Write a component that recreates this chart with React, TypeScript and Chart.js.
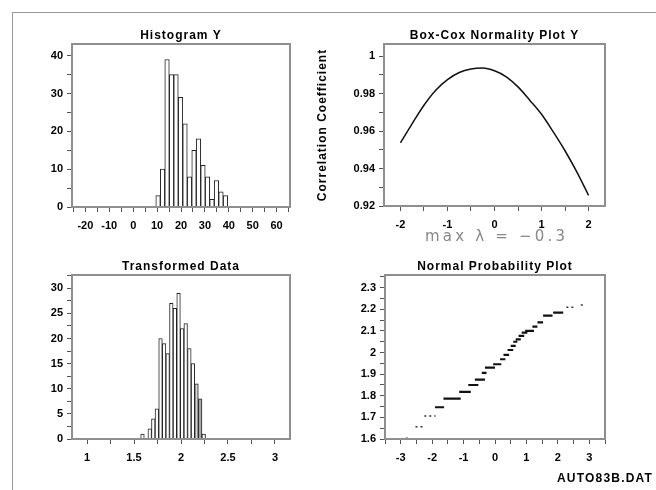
import React, { useEffect, useRef } from "react";
import { Chart, registerables } from "chart.js";

Chart.register(...registerables);

// ---------- Histogram Y ----------
const histYBins = [10.4, 12.28, 14.16, 16.04, 17.92, 19.8, 21.68, 23.56, 25.44, 27.32, 29.2, 31.08, 32.96, 34.84, 36.72, 38.6];
const histYCounts = [3, 10, 39, 35, 35, 29, 22, 8, 15, 18, 11, 8, 2, 7, 4, 3];

// ---------- Box-Cox normality plot ----------
const boxCoxLambda = [-2, -1.75, -1.5, -1.25, -1, -0.75, -0.5, -0.25, 0, 0.25, 0.5, 0.75, 1, 1.25, 1.5, 1.75, 2];
const boxCoxCorr = [0.9537, 0.964, 0.9738, 0.9818, 0.9875, 0.9913, 0.9932, 0.9937, 0.9922, 0.989, 0.9836, 0.9765, 0.969, 0.9596, 0.9495, 0.9382, 0.9257];
const maxLambdaText = "max λ = −0.3";

// ---------- Transformed data histogram ----------
const transBins = [1.59, 1.667, 1.705, 1.743, 1.782, 1.82, 1.858, 1.897, 1.935, 1.974, 2.012, 2.05, 2.089, 2.127, 2.165, 2.204, 2.242];
const transCounts = [1, 2, 4, 6, 20, 19, 17, 27, 26, 29, 22, 23, 18, 15, 11, 8, 1];

// ---------- Normal probability plot (runs of tied values) ----------
const nppDenseStart = [-1.91, -1.64, -1.14, -0.85, -0.64, -0.42, -0.32, -0.06, 0.16, 0.27, 0.4, 0.5, 0.58, 0.66, 0.75, 0.85, 0.96, 1.19, 1.35, 1.53, 1.85];
const nppDenseEnd = [-1.62, -1.09, -0.77, -0.53, -0.32, -0.27, 0.0, 0.2, 0.33, 0.45, 0.58, 0.66, 0.71, 0.82, 0.93, 1.03, 1.24, 1.35, 1.53, 1.83, 2.17];
const nppDenseLevel = [1.747, 1.787, 1.818, 1.85, 1.875, 1.906, 1.93, 1.946, 1.969, 1.989, 2.012, 2.031, 2.05, 2.061, 2.077, 2.092, 2.1, 2.12, 2.14, 2.171, 2.185];
const nppSparseStart = [-2.84, -2.53, -2.25, 2.27, 2.73];
const nppSparseEnd = [-2.76, -2.26, -1.89, 2.55, 2.81];
const nppSparseLevel = [1.603, 1.657, 1.706, 2.21, 2.22];

const footerText = "AUTO83B.DAT";

const FONT = '"Liberation Sans", Arial, Helvetica, sans-serif';

type Rect = { x: number; y: number; w: number; h: number };
type Area = { left: number; top: number; right: number; bottom: number };

function isMult(v: number, m: number) {
  const r = v / m;
  return Math.abs(r - Math.round(r)) < 1e-6;
}

function linAxis(min: number, max: number, step: number, major: number, size: number, horizontal: boolean, decimals: number) {
  return {
    type: "linear",
    min,
    max,
    bounds: "ticks",
    offset: false,
    grid: { display: true, offset: false, drawOnChartArea: false, drawTicks: true, tickLength: 5, color: "#555", lineWidth: 1 },
    border: { display: false },
    ticks: {
      stepSize: step,
      includeBounds: false,
      autoSkip: false,
      maxRotation: 0,
      minRotation: 0,
      padding: horizontal ? 7 : 4,
      color: "#000",
      font: { family: FONT, size: 11, weight: "bold" },
      callback: (v: number) => (isMult(v, major) ? String(Number(v.toFixed(decimals))) : ""),
    },
    afterFit: (s: any) => {
      if (horizontal) s.height = size;
      else s.width = size;
    },
  };
}

function decoPlugin(title: string, yTitle?: string) {
  return {
    id: "panelDeco",
    afterDraw(chart: any) {
      const { ctx, chartArea: a } = chart;
      ctx.save();
      ctx.strokeStyle = "#8f8f8f";
      ctx.lineWidth = 2;
      ctx.strokeRect(a.left, a.top, a.right - a.left, a.bottom - a.top);
      ctx.fillStyle = "#000";
      ctx.font = `bold 12px ${FONT}`;
      (ctx as any).letterSpacing = "1px";
      ctx.textAlign = "center";
      ctx.textBaseline = "middle";
      ctx.fillText(title, (a.left + a.right) / 2, a.top - 8);
      if (yTitle) {
        ctx.translate(a.left - 61, (a.top + a.bottom) / 2);
        ctx.rotate(-Math.PI / 2);
        ctx.fillText(yTitle, 0, 0);
      }
      ctx.restore();
    },
  };
}

function baseOptions(rect: Rect, area: Area) {
  return {
    responsive: false,
    maintainAspectRatio: false,
    animation: false,
    devicePixelRatio: 1,
    events: [],
    layout: { padding: { top: area.top - rect.y, right: rect.x + rect.w - area.right, left: 0, bottom: 0 } },
    plugins: { legend: { display: false }, tooltip: { enabled: false }, title: { display: false } },
  };
}

function segData(starts: number[], ends: number[], levels: number[]) {
  const out: any[] = [];
  for (let i = 0; i < starts.length; i++) {
    out.push({ x: starts[i], y: levels[i] });
    out.push({ x: ends[i], y: levels[i] });
    out.push({ x: (starts[i] + ends[i]) / 2, y: null });
  }
  return out;
}

// panel geometry
const R1: Rect = { x: 14, y: 20, w: 300, h: 225 };
const A1: Area = { left: 72, top: 44, right: 290, bottom: 207 };
const R2: Rect = { x: 314, y: 20, w: 310, h: 225 };
const A2: Area = { left: 384, top: 44, right: 605, bottom: 206 };
const R3: Rect = { x: 14, y: 250, w: 300, h: 225 };
const A3: Area = { left: 72, top: 275, right: 290, bottom: 439 };
const R4: Rect = { x: 314, y: 250, w: 310, h: 225 };
const A4: Area = { left: 385, top: 275, right: 605, bottom: 439 };

function makeHistY(): any {
  return {
    type: "bar",
    data: {
      datasets: [
        {
          data: histYBins.map((x, i) => ({ x, y: histYCounts[i] })),
          backgroundColor: "#ffffff",
          borderColor: "#222",
          borderWidth: 1,
          barPercentage: 1,
          categoryPercentage: 1,
        },
      ],
    },
    options: {
      ...baseOptions(R1, A1),
      scales: {
        x: linAxis(-25.6, 65.6, 5, 10, R1.y + R1.h - A1.bottom, true, 0),
        y: linAxis(0, 43.1, 5, 10, A1.left - R1.x, false, 0),
      },
    },
    plugins: [decoPlugin("Histogram Y")],
  };
}

function makeBoxCox(): any {
  return {
    type: "line",
    data: {
      datasets: [
        {
          data: boxCoxLambda.map((x, i) => ({ x, y: boxCoxCorr[i] })),
          borderColor: "#111",
          borderWidth: 1.5,
          pointRadius: 0,
          cubicInterpolationMode: "monotone",
          fill: false,
        },
      ],
    },
    options: {
      ...baseOptions(R2, A2),
      scales: {
        x: linAxis(-2.35, 2.35, 0.5, 1, R2.y + R2.h - A2.bottom, true, 0),
        y: linAxis(0.92, 1.0065, 0.01, 0.02, A2.left - R2.x, false, 2),
      },
    },
    plugins: [decoPlugin("Box-Cox Normality Plot Y", "Correlation Coefficient")],
  };
}

function makeTrans(): any {
  return {
    type: "bar",
    data: {
      datasets: [
        {
          data: transBins.map((x, i) => ({ x, y: transCounts[i] })),
          backgroundColor: transBins.map((_, i) => (i === 14 ? "#d4d4d4" : i === 15 ? "#a9a9a9" : "#ffffff")),
          borderColor: "#222",
          borderWidth: 1,
          barPercentage: 1,
          categoryPercentage: 1,
        },
      ],
    },
    options: {
      ...baseOptions(R3, A3),
      scales: {
        x: linAxis(0.84, 3.16, 0.25, 0.5, R3.y + R3.h - A3.bottom, true, 1),
        y: linAxis(0, 32.65, 2.5, 5, A3.left - R3.x, false, 0),
      },
    },
    plugins: [decoPlugin("Transformed Data")],
  };
}

function makeNpp(): any {
  return {
    type: "line",
    data: {
      datasets: [
        {
          data: segData(nppDenseStart, nppDenseEnd, nppDenseLevel),
          borderColor: "#111",
          borderWidth: 2.2,
          pointRadius: 0,
          spanGaps: false,
          tension: 0,
          fill: false,
        },
        {
          data: segData(nppSparseStart, nppSparseEnd, nppSparseLevel),
          borderColor: "#333",
          borderWidth: 1.5,
          borderDash: [2, 3],
          pointRadius: 0,
          spanGaps: false,
          tension: 0,
          fill: false,
        },
      ],
    },
    options: {
      ...baseOptions(R4, A4),
      scales: {
        x: linAxis(-3.5, 3.5, 0.5, 1, R4.y + R4.h - A4.bottom, true, 0),
        y: linAxis(1.6, 2.359, 0.05, 0.1, A4.left - R4.x, false, 1),
      },
    },
    plugins: [decoPlugin("Normal Probability Plot")],
  };
}

function Panel({ rect, make }: { rect: Rect; make: () => any }) {
  const ref = useRef<HTMLCanvasElement>(null);
  useEffect(() => {
    const chart = new Chart(ref.current as HTMLCanvasElement, make());
    return () => chart.destroy();
  }, []);
  return (
    <canvas
      ref={ref}
      width={rect.w}
      height={rect.h}
      style={{ position: "absolute", left: rect.x, top: rect.y, width: rect.w, height: rect.h }}
    />
  );
}

export default function App() {
  return (
    <div
      style={{
        position: "absolute",
        left: 0,
        top: 0,
        width: 656,
        height: 490,
        background: "#fff",
        overflow: "hidden",
        fontFamily: FONT,
      }}
    >
      <div
        style={{
          position: "absolute",
          left: 12,
          top: 12,
          width: 700,
          height: 520,
          borderTop: "1px solid #999",
          borderLeft: "1px solid #999",
        }}
      />
      <Panel rect={R1} make={makeHistY} />
      <Panel rect={R2} make={makeBoxCox} />
      <Panel rect={R3} make={makeTrans} />
      <Panel rect={R4} make={makeNpp} />
      <div
        style={{
          position: "absolute",
          left: 425,
          top: 228,
          fontFamily: '"DejaVu Sans", sans-serif',
          fontSize: 15,
          lineHeight: "16px",
          letterSpacing: "3.2px",
          color: "#888",
          whiteSpace: "nowrap",
        }}
      >
        {maxLambdaText}
      </div>
      <div
        style={{
          position: "absolute",
          left: 557,
          top: 471,
          fontFamily: FONT,
          fontWeight: "bold",
          fontSize: 12,
          lineHeight: "14px",
          letterSpacing: "1.2px",
          color: "#000",
          whiteSpace: "nowrap",
        }}
      >
        {footerText}
      </div>
    </div>
  );
}
